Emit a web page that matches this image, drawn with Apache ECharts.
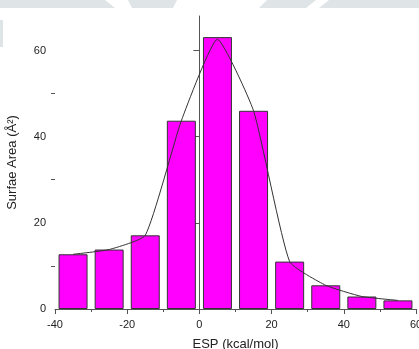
<!DOCTYPE html>
<html>
<head>
<meta charset="utf-8">
<script src="https://cdn.jsdelivr.net/npm/echarts@6/dist/echarts.min.js"></script>
<style>
html,body{margin:0;padding:0;background:#fff;}
#c{width:419px;height:349px;}
</style>
</head>
<body>
<div id="c"></div>
<script>
// Data
const binCenters = [-35, -25, -15, -5, 5, 15, 25, 35, 45, 55];
const barValues = [12.7, 13.8, 17.1, 43.7, 63.1, 46.0, 11.0, 5.5, 2.9, 2.0];
const lineValues = [12.7, 13.8, 17.1, 43.7, 62.6, 46.0, 11.0, 5.5, 2.9, 2.0];
const yMajorTicks = [0, 20, 40, 60];
const yMinorTicks = [10, 30, 50];
const xTitle = 'ESP (kcal/mol)';
const yTitle = 'Surfae Area (Å²)';

const barData = binCenters.map((x, i) => [x, barValues[i]]);
const lineData = binCenters.map((x, i) => [x, lineValues[i]]);

const chart = echarts.init(document.getElementById('c'), null, {renderer: 'canvas'});
const font = 'Liberation Sans, Arial, sans-serif';
const wm = '#dfe4e7';

chart.setOption({
  animation: false,
  backgroundColor: '#fff',
  graphic: [
    {type: 'polygon', silent: true, z: -10, shape: {points: [[0,0],[105,0],[115,8],[0,8]]}, style: {fill: wm}},
    {type: 'polygon', silent: true, z: -10, shape: {points: [[128,0],[177,0],[173,8],[132,8]]}, style: {fill: wm}},
    {type: 'polygon', silent: true, z: -10, shape: {points: [[267,0],[316,0],[306,8],[259,8]]}, style: {fill: wm}},
    {type: 'polygon', silent: true, z: -10, shape: {points: [[329,0],[419,0],[419,8],[319,8]]}, style: {fill: wm}},
    {type: 'rect', silent: true, z: -10, shape: {x: 0, y: 20, width: 3, height: 27}, style: {fill: wm}}
  ],
  grid: {left: 55, right: 3, top: 16, bottom: 40, containLabel: false, outerBoundsMode: 'none'},
  xAxis: {
    type: 'value', min: -40, max: 60, interval: 20,
    name: xTitle, nameLocation: 'middle', nameGap: 29,
    nameTextStyle: {fontFamily: font, fontSize: 13, color: '#222'},
    axisLine: {show: true, lineStyle: {color: '#555', width: 1}},
    axisTick: {show: true, length: 5, lineStyle: {color: '#555'}},
    minorTick: {show: true, splitNumber: 2, length: 3, lineStyle: {color: '#555'}},
    axisLabel: {fontFamily: font, fontSize: 11, color: '#222', margin: 10},
    splitLine: {show: false}
  },
  yAxis: [
    {
      type: 'value', min: 0, max: 68,
      name: yTitle, nameLocation: 'middle', nameGap: 36, nameRotate: 90,
      nameTextStyle: {fontFamily: font, fontSize: 13, color: '#222'},
      axisLine: {show: true, lineStyle: {color: '#555', width: 1}},
      axisTick: {show: true, length: 6, customValues: yMajorTicks, lineStyle: {color: '#555'}},
      axisLabel: {fontFamily: font, fontSize: 11, color: '#222', margin: 9, customValues: yMajorTicks},
      splitLine: {show: false}
    },
    {
      type: 'value', min: 0, max: 68, position: 'left',
      axisLine: {show: false},
      axisTick: {show: true, length: 4, customValues: yMinorTicks, lineStyle: {color: '#555'}},
      axisLabel: {show: false},
      splitLine: {show: false}
    }
  ],
  series: [
    {
      type: 'bar', data: barData, barWidth: 29, yAxisIndex: 0,
      itemStyle: {color: '#ff00ff', borderColor: '#333', borderWidth: 1}
    },
    {
      type: 'line', data: lineData, smooth: 0.15, showSymbol: false, yAxisIndex: 0,
      lineStyle: {color: '#333', width: 1}, z: 5
    }
  ]
});
</script>
</body>
</html>
